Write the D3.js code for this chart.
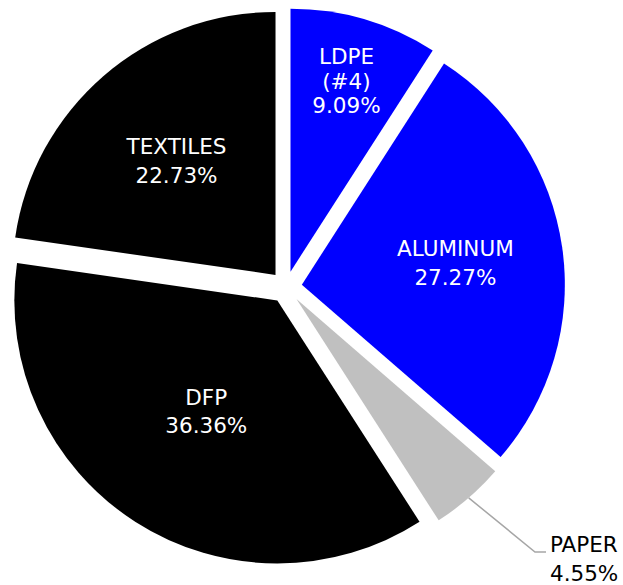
<!DOCTYPE html>
<html>
<head>
<meta charset="utf-8">
<script src="https://cdn.jsdelivr.net/npm/d3@7/dist/d3.min.js"></script>
<style>
  html, body { margin: 0; padding: 0; background: #fff; }
  svg { display: block; }
  text { font-family: "DejaVu Sans", Verdana, sans-serif; font-size: 21.5px; }
</style>
</head>
<body>
<svg id="chart" width="623" height="585"></svg>
<script>
// Material counts, clockwise from 12 o'clock
const categories = ["LDPE\n(#4)", "ALUMINUM", "PAPER", "DFP", "TEXTILES"];
const values = [2, 6, 1, 8, 5];
const colors = ["#0000ff", "#0000ff", "#c0c0c0", "#000000", "#000000"];

// Label placement: distance from slice centre as a fraction of the radius
const labelRadius = [0.755, 0.59, null, 0.5, 0.575];

const width = 623, height = 585;
const cx = 286, cy = 287;
const radius = 263;
const explode = 16;
const capH = 15.6;

const svg = d3.select("#chart");
const total = d3.sum(values);

const pie = d3.pie().sort(null).value(d => d).startAngle(0).endAngle(2 * Math.PI);
const arcs = pie(values);
const arc = d3.arc().innerRadius(0).outerRadius(radius);

const root = svg.append("g").attr("transform", `translate(${cx},${cy})`);

function dirOf(a) {
  const mid = (a.startAngle + a.endAngle) / 2;
  return [Math.sin(mid), -Math.cos(mid)];
}

const slices = root.selectAll("g.slice")
  .data(arcs)
  .join("g")
  .attr("class", "slice")
  .attr("transform", d => {
    const [ux, uy] = dirOf(d);
    return `translate(${ux * explode},${uy * explode})`;
  });

slices.append("path")
  .attr("d", arc)
  .attr("fill", (d, i) => colors[i]);

const pct = v => (v / total * 100).toFixed(2) + "%";

// In-slice labels
slices.each(function (d, i) {
  if (labelRadius[i] == null) return;
  const [ux, uy] = dirOf(d);
  const lx = ux * radius * labelRadius[i];
  const ly = uy * radius * labelRadius[i];
  const lines = categories[i].split("\n").concat([pct(values[i])]);
  const lh = lines.length > 2 ? 24.5 : 28.5;
  const top = ly - (capH + (lines.length - 1) * lh) / 2;
  const t = d3.select(this).append("text")
    .attr("text-anchor", "middle")
    .attr("fill", "#ffffff");
  lines.forEach((s, k) => {
    t.append("tspan").attr("x", lx).attr("y", top + capH + k * lh).text(s);
  });
});

// Outside label with leader line for the small slice
const pIdx = 2;
const pArc = arcs[pIdx];
const [pux, puy] = dirOf(pArc);
const start = [cx + pux * (explode + radius), cy + puy * (explode + radius)];
const elbow = [535, 552];
const end = [546, 552];

svg.append("path")
  .attr("d", d3.line()([start, elbow, end]))
  .attr("fill", "none")
  .attr("stroke", "#a6a6a6")
  .attr("stroke-width", 1.5);

const pt = svg.append("text").attr("fill", "#000000").attr("text-anchor", "start");
[categories[pIdx], pct(values[pIdx])].forEach((s, k) => {
  pt.append("tspan").attr("x", 550).attr("y", 552 + k * 29).text(s);
});
</script>
</body>
</html>
